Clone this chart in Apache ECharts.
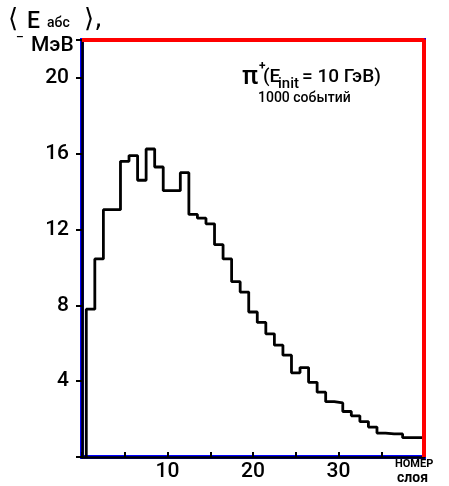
<!DOCTYPE html>
<html>
<head>
<meta charset="utf-8">
<script src="https://cdn.jsdelivr.net/npm/echarts@6/dist/echarts.min.js"></script>
<style>
  html, body { margin: 0; padding: 0; background: #fff; }
  #main { width: 449px; height: 486px; }
</style>
</head>
<body>
<div id="main"></div>
<script>
// номер слоя (layer number), one bin per layer
var layers = [1, 2, 3, 4, 5, 6, 7, 8, 9, 10,
              11, 12, 13, 14, 15, 16, 17, 18, 19, 20,
              21, 22, 23, 24, 25, 26, 27, 28, 29, 30,
              31, 32, 33, 34, 35, 36, 37, 38, 39, 40]
// <E_abs>, MeV
var energy = [7.8, 10.45, 13.05, 13.05, 15.6, 15.9, 14.6, 16.25, 15.3, 14.05,
              14.05, 15.0, 12.8, 12.6, 12.3, 11.2, 10.45, 9.25, 8.7, 7.65,
              7.1, 6.5, 5.9, 5.37, 4.44, 4.72, 3.94, 3.42, 2.92, 2.85,
              2.4, 2.17, 1.87, 1.58, 1.26, 1.22, 1.22, 1.02, 1.02, 1.02]
var yLabels = [4, 8, 12, 16, 20]
var xLabels = [10, 20, 30]
var xMax = 40
var yMax = 22

// outline of the histogram: one point on each left bin edge, step 'end'
var outline = [[layers[0] - 0.5, 0]]
for (var i = 0; i < layers.length; i++) {
  outline.push([layers[i] - 0.5, energy[i]])
}
outline.push([layers[layers.length - 1] + 0.5, energy[energy.length - 1]])

// top and right side of the box
var frame = [[0, yMax], [xMax, yMax], [xMax, 0]]

var font = 'Roboto'
var chart = echarts.init(document.getElementById('main'))

chart.setOption({
  animation: false,
  grid: {
    left: 82, right: 25, top: 40, bottom: 29,
    show: true, borderColor: '#0000ff', borderWidth: 4
  },
  xAxis: {
    type: 'value',
    min: 0,
    max: xMax,
    interval: 5,
    axisLine: { onZero: false, lineStyle: { color: '#000', width: 2.5 } },
    axisTick: { inside: true, length: 5, lineStyle: { color: '#000', width: 2 } },
    axisLabel: {
      color: '#000', fontSize: 21, fontFamily: font, fontWeight: 500, margin: 4,
      formatter: function (v) { return xLabels.indexOf(v) >= 0 ? String(v) : '' }
    },
    splitLine: { show: false }
  },
  yAxis: {
    type: 'value',
    min: 0,
    max: yMax,
    interval: 4,
    axisLine: { show: true, onZero: false, lineStyle: { color: '#000', width: 2.5 } },
    axisTick: { show: true, length: 6, lineStyle: { color: '#000', width: 2 } },
    axisLabel: {
      color: '#000', fontSize: 21, fontFamily: font, fontWeight: 500, margin: 13,
      formatter: function (v) { return yLabels.indexOf(v) >= 0 ? String(v) : '' }
    },
    splitLine: { show: false }
  },
  series: [{
    type: 'line',
    step: 'end',
    data: outline,
    symbol: 'none',
    clip: true,
    lineStyle: { color: '#000', width: 2.8 }
  }, {
    type: 'line',
    data: frame,
    symbol: 'none',
    clip: false,
    lineStyle: { color: '#ff0000', width: 4 }
  }],
  graphic: [
    // y axis title
    { type: 'text', left: 8, top: 7, style: { text: '⟨', font: '26px "DejaVu Sans"', fill: '#000' } },
    { type: 'text', left: 27, top: 11, style: { text: 'E', font: '500 23px Roboto', fill: '#000' } },
    { type: 'text', left: 47, top: 16, style: { text: 'абс', font: '500 14px Roboto', fill: '#000' } },
    { type: 'text', left: 84, top: 7, style: { text: '⟩,', font: '26px "DejaVu Sans"', fill: '#000' } },
    { type: 'text', left: 16, top: 32, style: { text: '–', font: '500 12px Roboto', fill: '#000' } },
    { type: 'text', left: 31, top: 35, style: { text: 'МэВ', font: '500 21px Roboto', fill: '#000' } },
    // annotation
    { type: 'text', left: 242, top: 64, style: { text: 'π', font: '500 26px Roboto', fill: '#000' } },
    { type: 'text', left: 259, top: 61, style: { text: '+', font: 'bold 12px Roboto', fill: '#000' } },
    { type: 'text', left: 263, top: 68, style: { text: '(E', font: '500 19px Roboto', fill: '#000' } },
    { type: 'text', left: 278, top: 77, style: { text: 'init', font: '500 15px Roboto', fill: '#000' } },
    { type: 'text', left: 302, top: 68, style: { text: '= 10 ГэВ)', font: '500 19px Roboto', fill: '#000' } },
    { type: 'text', left: 258, top: 91, style: { text: '1000 событий', font: '500 14px Roboto', fill: '#000' } },
    // x axis title
    { type: 'text', left: 395, top: 459, style: { text: 'НОМЕР', font: 'bold 11px Roboto', fill: '#000' } },
    { type: 'text', left: 397, top: 471, style: { text: 'слоя', font: 'bold 14px Roboto', fill: '#000' } }
  ]
})
</script>
</body>
</html>
